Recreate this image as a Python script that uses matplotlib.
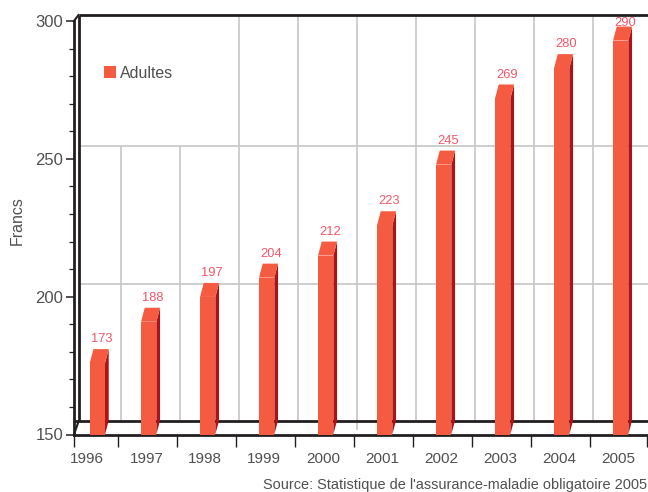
import numpy as np
import matplotlib
matplotlib.use('Agg')
import matplotlib.pyplot as plt
from matplotlib.lines import Line2D

plt.rcParams['font.family'] = ['Liberation Sans', 'DejaVu Sans']

# Valeurs
years = np.array([1996, 1997, 1998, 1999, 2000, 2001, 2002, 2003, 2004, 2005])
values = np.array([173, 188, 197, 204, 212, 223, 245, 269, 280, 290])
series_name = 'Adultes'
y_label = 'Francs'
source = "Source: Statistique de l'assurance-maladie obligatoire 2005"

front_color = '#F55B40'
side_color = '#AE1216'
label_color = '#F5566A'
axis_color = '#231F20'
grid_color = '#C6C6C6'
text_color = '#505052'

W, H = 648, 492
x_left, x_right = 1995.734, 2005.45
axes_w = (x_right - x_left) * 59
fig = plt.figure(figsize=(W / 100, H / 100), dpi=100)
ax = fig.add_axes([74 / W, (H - 434.5) / H, axes_w / W, 413.5 / H])

y_low, y_high = 150, 300
ax.set_xlim(x_left, x_right)
ax.set_ylim(y_low, y_high)

px_x = 1 / 59
px_y = (y_high - y_low) / 413.5

# profondeur du fond et des barres
wall_dx, wall_dy = 4.5 * px_x, 13 * px_y
bar_dx, bar_dy = 3.7 * px_x, 14 * px_y
bar_w = 15.3 * px_x
lift = 8 * px_y

back_left = x_left + wall_dx
back_floor = y_low + wall_dy
back_top = y_high + 6 * px_y

# graduations de l'axe x (limites entre les années)
x_bounds = np.concatenate([[x_left], years[:-1] + 0.475, [x_right]])

# grille du fond
for yv in (200, 250):
    ax.plot([back_left, x_right + 2 * px_x], [yv + wall_dy, yv + wall_dy],
            color=grid_color, lw=1.2, clip_on=False, zorder=1, solid_capstyle='butt')
for i, xb in enumerate(x_bounds[1:-1]):
    upper = 250 + wall_dy if i < 2 else back_top
    lower = y_low + 2 * wall_dy * 0.17 if years[i] == 2000 else back_floor
    ax.plot([xb + 3.3 * px_x] * 2, [lower, upper], color=grid_color, lw=1.2,
            clip_on=False, zorder=1, solid_capstyle='butt')

# cadre 3D
frame_lw = 2.0
ax.plot([x_left, x_right + 2 * px_x], [back_floor, back_floor], color=axis_color,
        lw=frame_lw, clip_on=False, zorder=1.5, solid_capstyle='butt')
ax.plot([back_left, x_right + 2 * px_x], [back_top, back_top], color=axis_color,
        lw=frame_lw, clip_on=False, zorder=1.5, solid_capstyle='butt')
ax.plot([back_left, back_left], [back_floor, back_top], color=axis_color,
        lw=frame_lw, clip_on=False, zorder=1.5, solid_capstyle='butt')
ax.plot([x_left, back_left], [y_low, back_floor], color=axis_color, lw=1.5,
        clip_on=False, zorder=1.5)
ax.plot([x_left, back_left], [y_high, back_top], color=axis_color, lw=1.5,
        clip_on=False, zorder=1.5)

# barres: la première est décalée comme sur l'original
bar_x = years.astype(float)
bar_x[0] += 0.13
tops = values + lift

ax.bar(bar_x, tops - y_low, bottom=y_low, width=bar_w, color=front_color, zorder=4)
for xc, top in zip(bar_x, tops):
    x0, x1 = xc - bar_w / 2, xc + bar_w / 2
    ax.fill([x1, x1 + bar_dx, x1 + bar_dx, x1],
            [y_low, y_low + bar_dy, top + bar_dy, top],
            color=side_color, lw=0, zorder=3.5, clip_on=False)
    ax.fill([x0, x1, x1 + bar_dx, x0 + bar_dx],
            [top, top, top + bar_dy, top + bar_dy],
            color=front_color, lw=0, zorder=3.5, clip_on=False)

# étiquettes de valeurs
for i, (xc, top, v) in enumerate(zip(bar_x, tops, values)):
    nudge = -2.2 if i == len(values) - 1 else 0
    ax.text(xc + bar_dx + 0.5 * px_x, top + bar_dy + 2.5 + nudge, str(v), color=label_color,
            fontsize=9.3, ha='center', va='baseline', zorder=5, clip_on=False)

# axes
for name in ('top', 'right'):
    ax.spines[name].set_visible(False)
for name in ('left', 'bottom'):
    ax.spines[name].set_linewidth(frame_lw)
    ax.spines[name].set_color(axis_color)
ax.patch.set_visible(False)

ax.set_yticks([150, 200, 250, 300])
ax.set_yticks(np.arange(150, 301, 10), minor=True)
ax.tick_params(axis='y', which='major', length=5.8, width=1.1, color=axis_color,
               labelsize=12, labelcolor=text_color, pad=2)
ax.tick_params(axis='y', which='minor', length=3.4, width=0.9, color=axis_color)

ax.set_xticks(x_bounds)
ax.set_xticklabels([])
ax.set_xticks(years - 0.04, minor=True)
ax.set_xticklabels([str(y) for y in years], minor=True)
ax.tick_params(axis='x', which='major', length=8.6, width=1.0, color=axis_color)
ax.tick_params(axis='x', which='minor', length=0, labelsize=11,
               labelcolor=text_color, pad=12.5)

fig.text(17.5 / W, 1 - 221 / H, y_label, rotation=90, ha='center', va='center',
         fontsize=11.5, color=text_color)

handle = Line2D([], [], marker='s', linestyle='none', markersize=8,
                markerfacecolor=front_color, markeredgewidth=0)
ax.legend([handle], [series_name], loc='center left', frameon=False,
          bbox_to_anchor=(30 / axes_w, 1 - 52.5 / 413.5), fontsize=11.4,
          labelcolor=text_color, handlelength=0.7, handletextpad=0.3,
          borderpad=0, borderaxespad=0)

fig.text(647 / W, 1 - 485 / H, source, ha='right', va='center', fontsize=10.45,
         color=text_color)

fig.savefig('out.png', dpi=100)
